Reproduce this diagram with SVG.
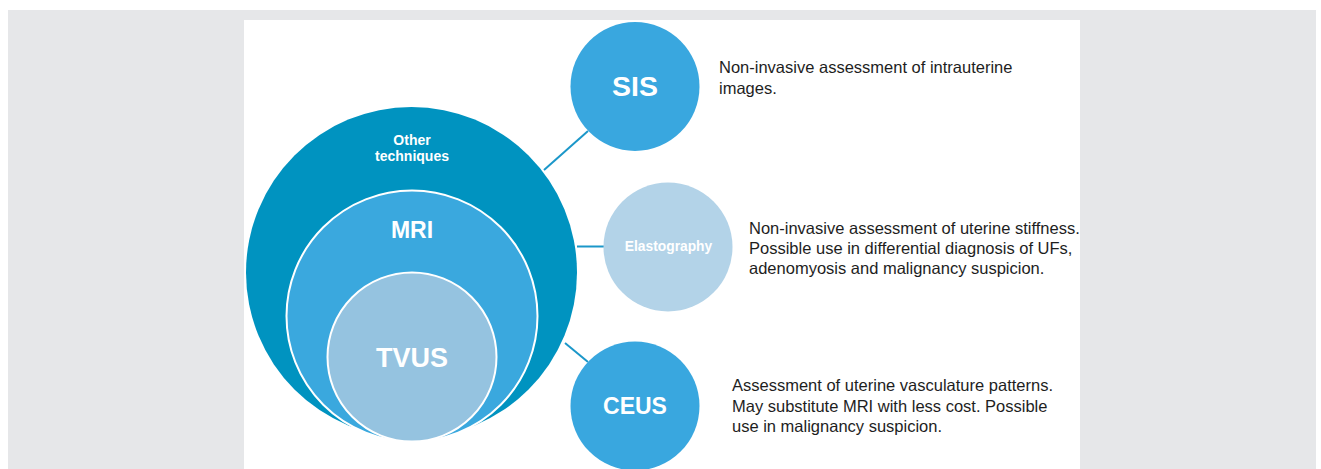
<svg xmlns="http://www.w3.org/2000/svg" width="1321" height="469" viewBox="0 0 1321 469">
<style>
.lbl{font-family:"Liberation Sans",Arial,sans-serif;font-weight:bold;fill:#ffffff;text-anchor:middle}
.desc{font-family:"Liberation Sans",Arial,sans-serif;font-size:16.5px;fill:#1e1e1e}
.conn{stroke:#1b97c9;stroke-width:2;fill:none}
</style>
<rect x="0" y="0" width="1321" height="469" fill="#ffffff"/>
<rect x="8" y="10" width="1308" height="459" fill="#e6e7e9"/>
<rect x="244" y="20" width="836" height="449" fill="#ffffff"/>
<g id="connectors">
<line class="conn" x1="544" y1="170" x2="588" y2="131"/>
<line class="conn" x1="577" y1="246.5" x2="605" y2="246.5"/>
<line class="conn" x1="565" y1="343" x2="588" y2="362"/>
</g>
<g id="other-techniques">
<circle cx="411.5" cy="272.5" r="165.5" fill="#0093c0"/>
<text class="lbl" x="412" y="144.5" font-size="14">Other</text>
<text class="lbl" x="412" y="160.5" font-size="14">techniques</text>
</g>
<g id="mri">
<circle cx="412" cy="316" r="125.5" fill="#3aa8de" stroke="#ffffff" stroke-width="2"/>
<text class="lbl" x="412" y="237.5" font-size="23">MRI</text>
</g>
<g id="tvus">
<circle cx="412" cy="357" r="84.5" fill="#95c3e0" stroke="#ffffff" stroke-width="2"/>
<text class="lbl" x="412" y="366.5" font-size="27">TVUS</text>
</g>
<g id="sis">
<circle cx="635" cy="86.5" r="64.5" fill="#39a7df"/>
<text class="lbl" x="635" y="95.5" font-size="28.5">SIS</text>
</g>
<g id="elastography">
<circle cx="668" cy="247" r="64.5" fill="#b3d3e8"/>
<text class="lbl" x="668.5" y="251" font-size="13.8">Elastography</text>
</g>
<g id="ceus">
<circle cx="635" cy="406" r="64.5" fill="#39a7df"/>
<text class="lbl" x="635" y="413.5" font-size="23">CEUS</text>
</g>
<g id="sis-desc">
<text class="desc" x="719" y="72.5">Non-invasive assessment of intrauterine</text>
<text class="desc" x="719" y="93.5">images.</text>
</g>
<g id="elastography-desc">
<text class="desc" x="749" y="234">Non-invasive assessment of uterine stiffness.</text>
<text class="desc" x="749" y="254">Possible use in differential diagnosis of UFs,</text>
<text class="desc" x="749" y="274">adenomyosis and malignancy suspicion.</text>
</g>
<g id="ceus-desc">
<text class="desc" x="732" y="391">Assessment of uterine vasculature patterns.</text>
<text class="desc" x="732" y="412">May substitute MRI with less cost. Possible</text>
<text class="desc" x="732" y="432">use in malignancy suspicion.</text>
</g>
</svg>
